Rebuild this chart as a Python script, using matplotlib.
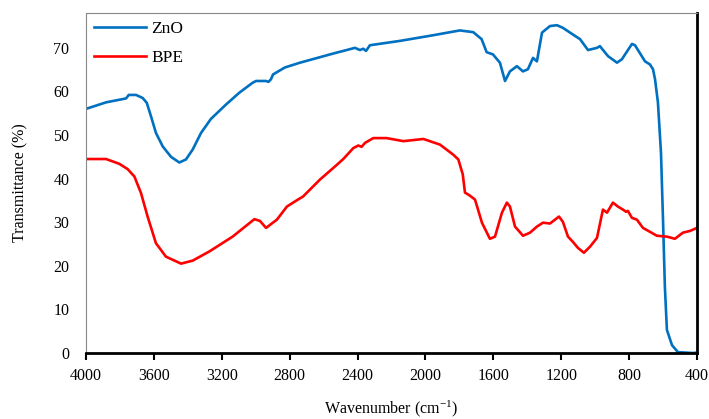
import matplotlib
matplotlib.use("Agg")
import matplotlib.pyplot as plt

plt.rcParams['font.family'] = ['Liberation Serif', 'DejaVu Serif']
plt.rcParams['mathtext.fontset'] = 'custom'
plt.rcParams['mathtext.rm'] = 'Liberation Serif'
plt.rcParams['mathtext.it'] = 'Liberation Serif:italic'

# ZnO spectrum (wavenumber, transmittance %)
zno_wn = [4000, 3882, 3764, 3748, 3705, 3666, 3642, 3617, 3588, 3548, 3499, 3450,
          3411, 3371, 3322, 3264, 3175, 3097, 3018, 2998, 2939, 2925, 2910, 2898,
          2828, 2739, 2543, 2415, 2386, 2366, 2350, 2327, 2150, 1954, 1797, 1718,
          1669, 1639, 1602, 1561, 1531, 1502, 1461, 1425, 1396, 1366, 1343, 1313,
          1266, 1225, 1190, 1148, 1089, 1042, 989, 972, 924, 871, 842, 783, 765,
          706, 677, 659, 647, 630, 612, 600, 589, 577, 547, 512, 423, 400]
zno_t = [56.0, 57.5, 58.4, 59.2, 59.2, 58.5, 57.4, 54.3, 50.5, 47.4, 45.0, 43.7,
         44.4, 46.7, 50.5, 53.7, 57.0, 59.7, 62.0, 62.4, 62.4, 62.2, 62.8, 63.9,
         65.5, 66.6, 68.7, 70.0, 69.5, 69.8, 69.3, 70.6, 71.6, 72.9, 74.0, 73.6,
         72.0, 69.0, 68.5, 66.6, 62.4, 64.6, 65.8, 64.6, 65.1, 67.7, 66.9, 73.5,
         75.0, 75.2, 74.6, 73.5, 72.0, 69.5, 70.0, 70.4, 68.1, 66.6, 67.4, 70.9,
         70.6, 66.9, 66.2, 65.1, 62.8, 57.5, 46.0, 30.6, 15.2, 5.3, 1.8, 0.2, 0.0,
         0.1]

# BPE spectrum
bpe_wn = [4000, 3882, 3804, 3755, 3715, 3676, 3637, 3588, 3529, 3440, 3371, 3273,
          3136, 3008, 2975, 2939, 2875, 2816, 2751, 2721, 2621, 2521, 2484, 2425,
          2396, 2376, 2356, 2307, 2229, 2130, 2012, 1914, 1836, 1806, 1780, 1767,
          1738, 1708, 1690, 1667, 1620, 1590, 1549, 1520, 1502, 1472, 1425, 1384,
          1343, 1307, 1266, 1213, 1190, 1160, 1131, 1101, 1066, 1030, 989, 954,
          930, 895, 866, 836, 818, 807, 783, 754, 718, 677, 636, 577, 530, 483,
          441, 400]
bpe_t = [44.5, 44.5, 43.4, 42.2, 40.5, 36.7, 31.3, 25.2, 22.1, 20.5, 21.2, 23.3,
         26.7, 30.7, 30.3, 28.7, 30.6, 33.6, 35.2, 35.9, 39.8, 43.2, 44.5, 47.0,
         47.6, 47.3, 48.2, 49.3, 49.3, 48.6, 49.1, 47.8, 45.5, 44.4, 41.0, 36.8,
         36.1, 35.2, 32.9, 29.9, 26.2, 26.7, 32.2, 34.5, 33.6, 29.0, 26.9, 27.6,
         29.0, 29.9, 29.7, 31.3, 30.1, 26.7, 25.5, 24.1, 23.0, 24.4, 26.4, 32.9,
         32.2, 34.5, 33.6, 32.9, 32.4, 32.6, 31.0, 30.6, 28.7, 27.8, 26.9, 26.7,
         26.2, 27.6, 28.0, 28.7]

x_ticks = [4000, 3600, 3200, 2800, 2400, 2000, 1600, 1200, 800, 400]
y_ticks = [0, 10, 20, 30, 40, 50, 60, 70]

fig = plt.figure(figsize=(7.09, 4.19), dpi=100)
ax = fig.add_axes([0.1213, 0.1575, 0.8617, 0.8115])

ax.plot(zno_wn, zno_t, color='#0070C0', lw=1.9, label='ZnO', solid_joinstyle='round')
ax.plot(bpe_wn, bpe_t, color='#FF0000', lw=1.9, label='BPE', solid_joinstyle='round')

ax.set_xlim(4000, 400)
ax.set_ylim(0, 78)
ax.set_xticks(x_ticks)
ax.set_yticks(y_ticks)
ax.tick_params(axis='x', direction='out', length=5, width=1.5, labelsize=11.5, pad=6)
ax.tick_params(axis='y', length=0, labelsize=11.5, pad=12)

for s in ['left', 'top']:
    ax.spines[s].set_color('#888888')
    ax.spines[s].set_linewidth(0.8)
for s in ['right', 'bottom']:
    ax.spines[s].set_color('black')
    ax.spines[s].set_linewidth(2)

ax.set_xlabel('Wavenumber (cm$^{-1}$)', fontsize=11.5, labelpad=10)
ax.set_ylabel('Transmittance (%)', fontsize=11.5, labelpad=18)

ax.legend(loc='upper left', frameon=False, fontsize=12.5, handlelength=3.0,
          borderaxespad=0.05, labelspacing=0.75, handletextpad=0.3)

fig.savefig('out.png', dpi=100)
